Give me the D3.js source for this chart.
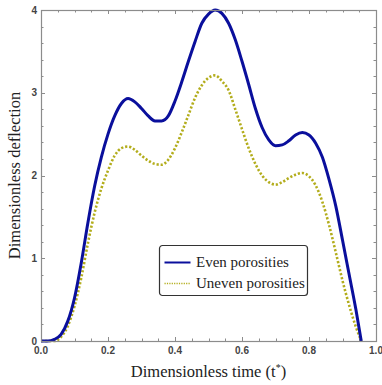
<!DOCTYPE html>
<html>
<head>
<meta charset="utf-8">
<script src="https://cdn.jsdelivr.net/npm/d3@7"></script>
<style>
  html, body { margin: 0; padding: 0; background: #fff; }
  svg { display: block; }
</style>
</head>
<body>
<svg id="chart" width="382" height="385"></svg>
<script>
// Dimensionless time samples
const timeValues = [0, 0.02, 0.04, 0.06, 0.08, 0.10, 0.12, 0.14, 0.16, 0.18,
  0.20, 0.22, 0.24, 0.26, 0.28, 0.30, 0.32, 0.34, 0.36, 0.38,
  0.40, 0.42, 0.44, 0.46, 0.48, 0.50, 0.52, 0.54, 0.56, 0.58,
  0.60, 0.62, 0.64, 0.66, 0.68, 0.70, 0.72, 0.74, 0.76, 0.78,
  0.80, 0.82, 0.84, 0.86, 0.88, 0.90, 0.92, 0.94, 0.956];

// Dimensionless deflection, even porosity distribution
const evenValues = [0, 0, 0.02, 0.08, 0.24, 0.52, 0.94, 1.43, 1.87, 2.22,
  2.50, 2.72, 2.87, 2.93, 2.89, 2.81, 2.72, 2.66, 2.66, 2.72,
  2.90, 3.13, 3.38, 3.62, 3.84, 3.95, 4.00, 3.96, 3.84, 3.64,
  3.38, 3.10, 2.81, 2.58, 2.43, 2.36, 2.37, 2.42, 2.49, 2.52,
  2.49, 2.39, 2.22, 1.95, 1.63, 1.22, 0.80, 0.38, 0];

// Dimensionless deflection, uneven porosity distribution
const unevenValues = [0, 0, 0, 0.05, 0.18, 0.42, 0.76, 1.18, 1.55, 1.84,
  2.06, 2.24, 2.33, 2.35, 2.31, 2.24, 2.18, 2.14, 2.13, 2.19,
  2.33, 2.52, 2.73, 2.94, 3.09, 3.18, 3.21, 3.14, 3.03, 2.80,
  2.56, 2.33, 2.14, 2.00, 1.92, 1.89, 1.92, 1.97, 2.01, 2.03,
  1.99, 1.88, 1.68, 1.40, 1.07, 0.73, 0.43, 0.17, 0];

const xTickLabels = ["0.0", "0.2", "0.4", "0.6", "0.8", "1.0"];
const yTickLabels = ["0", "1", "2", "3", "4"];
const seriesNames = ["Even porosities", "Uneven porosities"];

const margin = { left: 41, right: 6, top: 10, bottom: 44 };
const W = 382, H = 385;
const svg = d3.select("#chart");

const x = d3.scaleLinear().domain([0, 1]).range([margin.left, W - margin.right]);
const y = d3.scaleLinear().domain([0, 4]).range([H - margin.bottom, margin.top]);

const frameColor = "#8c8c8c";
const labelColor = "#444";

// Ticks (pointing inward on all four sides)
const xMajor = d3.range(0, 1.0001, 0.2);
const xMinor = d3.range(0, 1.0001, 0.05);
const yMajor = d3.range(0, 4.0001, 1);
const yMinor = d3.range(0, 4.0001, 0.2);

const ticks = svg.append("g").attr("stroke", frameColor).attr("stroke-width", 1);
xMinor.forEach(v => {
  const isMajor = xMajor.some(m => Math.abs(m - v) < 1e-9);
  const len = isMajor ? 4 : 2.5;
  const px = Math.round(x(v)) + 0.5;
  ticks.append("line").attr("x1", px).attr("x2", px)
    .attr("y1", y(0)).attr("y2", y(0) - len);
  ticks.append("line").attr("x1", px).attr("x2", px)
    .attr("y1", y(4)).attr("y2", y(4) + len);
});
yMinor.forEach(v => {
  const isMajor = yMajor.some(m => Math.abs(m - v) < 1e-9);
  const len = isMajor ? 4 : 2.5;
  const py = Math.round(y(v)) + 0.5;
  ticks.append("line").attr("y1", py).attr("y2", py)
    .attr("x1", x(0)).attr("x2", x(0) + len);
  ticks.append("line").attr("y1", py).attr("y2", py)
    .attr("x1", x(1)).attr("x2", x(1) - len);
});

// Curves
const line = d3.line()
  .x((d, i) => x(timeValues[i]))
  .y(d => y(d))
  .curve(d3.curveMonotoneX);

svg.append("path")
  .datum(unevenValues)
  .attr("fill", "none")
  .attr("stroke", "#b3ad1c")
  .attr("stroke-width", 2.6)
  .attr("stroke-dasharray", "2.2 1.9")
  .attr("d", line);

svg.append("path")
  .datum(evenValues)
  .attr("fill", "none")
  .attr("stroke", "#0a0f9c")
  .attr("stroke-width", 3)
  .attr("stroke-linejoin", "round")
  .attr("d", line);

// Frame
svg.append("rect")
  .attr("x", x(0) + 0.5).attr("y", y(4) + 0.5)
  .attr("width", x(1) - x(0)).attr("height", y(0) - y(4))
  .attr("fill", "none").attr("stroke", frameColor).attr("stroke-width", 1.2);

// Tick labels
const xLab = svg.append("g")
  .attr("font-family", "Arial, 'Liberation Sans', sans-serif")
  .attr("font-size", 10).attr("font-weight", "bold").attr("fill", labelColor);
xMajor.forEach((v, i) => {
  xLab.append("text").attr("x", x(v)).attr("y", y(0) + 13)
    .attr("text-anchor", "middle").text(xTickLabels[i]);
});
yMajor.forEach((v, i) => {
  xLab.append("text").attr("x", x(0) - 4).attr("y", y(v) + 3.5)
    .attr("text-anchor", "end").text(yTickLabels[i]);
});

// Axis titles
svg.append("text")
  .attr("x", (x(0) + x(1)) / 2).attr("y", 377)
  .attr("text-anchor", "middle")
  .attr("font-family", "'Times New Roman', 'Liberation Serif', serif")
  .attr("font-size", 16.5).attr("fill", "#222")
  .call(t => {
    t.append("tspan").text("Dimensionless time (t");
    t.append("tspan").attr("font-size", 10).attr("dy", -6).text("*");
    t.append("tspan").attr("dy", 6).text(")");
  });

svg.append("text")
  .attr("transform", `translate(20, ${(y(0) + y(4)) / 2}) rotate(-90)`)
  .attr("text-anchor", "middle")
  .attr("font-family", "'Times New Roman', 'Liberation Serif', serif")
  .attr("font-size", 16.5).attr("fill", "#222")
  .text("Dimensionless deflection");

// Legend
const legend = svg.append("g").attr("transform", "translate(159.5, 245.5)");
legend.append("rect")
  .attr("width", 148).attr("height", 50).attr("rx", 3)
  .attr("fill", "#fff").attr("stroke", "#333").attr("stroke-width", 1.2);
const legendStyles = [
  { stroke: "#0a0f9c", width: 2, dash: null },
  { stroke: "#b3ad1c", width: 1.6, dash: "1.2 1.2" }
];
seriesNames.forEach((name, i) => {
  const cy = 17 + i * 21;
  legend.append("line")
    .attr("x1", 5).attr("x2", 31).attr("y1", cy).attr("y2", cy)
    .attr("stroke", legendStyles[i].stroke)
    .attr("stroke-width", legendStyles[i].width)
    .attr("stroke-dasharray", legendStyles[i].dash);
  legend.append("text")
    .attr("x", 36.5).attr("y", cy + 4.5)
    .attr("font-family", "'Times New Roman', 'Liberation Serif', serif")
    .attr("font-size", 15).attr("fill", "#222")
    .text(name);
});
</script>
</body>
</html>
